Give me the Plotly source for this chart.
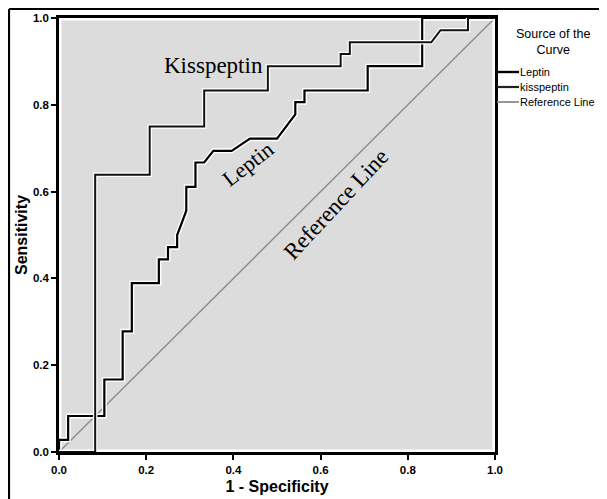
import plotly.graph_objects as go

# ---- Data ----
leptin_fpr = [0.000, 0.000, 0.021, 0.021, 0.104, 0.104, 0.146, 0.146, 0.167, 0.167,
              0.229, 0.229, 0.250, 0.250, 0.271, 0.271, 0.292, 0.292, 0.313, 0.313,
              0.333, 0.354, 0.396, 0.438, 0.500, 0.542, 0.542, 0.563, 0.563, 0.708,
              0.708, 0.833, 0.833, 1.000]
leptin_tpr = [0.000, 0.028, 0.028, 0.083, 0.083, 0.167, 0.167, 0.278, 0.278, 0.389,
              0.389, 0.444, 0.444, 0.472, 0.472, 0.500, 0.556, 0.611, 0.611, 0.667,
              0.667, 0.694, 0.694, 0.722, 0.722, 0.778, 0.806, 0.806, 0.833, 0.833,
              0.889, 0.889, 1.000, 1.000]

kiss_fpr = [0.000, 0.083, 0.083, 0.208, 0.208, 0.333, 0.333, 0.479, 0.479, 0.646,
            0.646, 0.667, 0.667, 0.854, 0.875, 0.938, 0.938, 1.000]
kiss_tpr = [0.000, 0.000, 0.639, 0.639, 0.750, 0.750, 0.833, 0.833, 0.889, 0.889,
            0.917, 0.917, 0.944, 0.944, 0.972, 0.972, 1.000, 1.000]

ref_x = [0.0, 1.0]
ref_y = [0.0, 1.0]

tick_vals = [0.0, 0.2, 0.4, 0.6, 0.8, 1.0]
tick_text = ["0.0", "0.2", "0.4", "0.6", "0.8", "1.0"]

legend_names = ["Leptin", "kisspeptin", "Reference Line"]
legend_colors = ["#000000", "#222222", "#8c8c8c"]
legend_widths = [2.4, 2.2, 1.8]

# ---- Layout geometry ----
# page has an 8px body margin, so figure coords = page coords - 8
O = 8
W, H = 607 - O, 499 - O
L, R, T, B = 59 - O, 495 - O, 18 - O, 452 - O


def px(p):
    """page x pixel -> paper x"""
    return (p - O - L) / (R - L)


def py(p):
    """page y pixel -> paper y"""
    return (B - (p - O)) / (B - T)


fig = go.Figure()

fig.add_trace(go.Scatter(x=ref_x, y=ref_y, mode="lines",
                         line=dict(color="#8c8c8c", width=1.4),
                         showlegend=False, hoverinfo="skip"))
fig.add_trace(go.Scatter(x=leptin_fpr, y=leptin_tpr, mode="lines",
                         line=dict(color="white", width=5),
                         showlegend=False, hoverinfo="skip"))
fig.add_trace(go.Scatter(x=leptin_fpr, y=leptin_tpr, mode="lines", name="Leptin",
                         line=dict(color="#000000", width=2.2), showlegend=False))
fig.add_trace(go.Scatter(x=kiss_fpr, y=kiss_tpr, mode="lines",
                         line=dict(color="white", width=4.5),
                         showlegend=False, hoverinfo="skip"))
fig.add_trace(go.Scatter(x=kiss_fpr, y=kiss_tpr, mode="lines", name="kisspeptin",
                         line=dict(color="#111111", width=2.0), showlegend=False))

axis_common = dict(
    range=[0, 1], showline=True, linecolor="black", linewidth=2.6, mirror=True,
    ticks="outside", ticklen=5, tickwidth=2, tickcolor="black",
    tickvals=tick_vals, ticktext=tick_text, showgrid=False, zeroline=False,
    automargin=False,
    tickfont=dict(family="Liberation Sans", size=11.5, color="black", weight="bold"),
)

fig.update_layout(
    width=W, height=H,
    margin=dict(l=L, r=W - R, t=T, b=H - B, autoexpand=False),
    paper_bgcolor="white", plot_bgcolor="#dcdcdc",
    showlegend=False,
    xaxis=dict(axis_common,
               title=dict(text="1 - Specificity", standoff=7,
                          font=dict(family="Liberation Sans", size=16,
                                    color="black", weight="bold"))),
    yaxis=dict(axis_common,
               title=dict(text="Sensitivity", standoff=2,
                          font=dict(family="Liberation Sans", size=16,
                                    color="black", weight="bold"))),
)

shapes = []
# white inner frame of the plot area
shapes.append(dict(type="rect", xref="x", yref="y", x0=0, x1=1, y0=0, y1=1,
                   line=dict(color="white", width=5), layer="below"))
# outer figure border (left & top)
shapes.append(dict(type="line", xref="paper", yref="paper",
                   x0=px(9), x1=px(9), y0=py(499), y1=py(9),
                   line=dict(color="black", width=2.2)))
shapes.append(dict(type="line", xref="paper", yref="paper",
                   x0=px(9), x1=px(607), y0=py(9), y1=py(9),
                   line=dict(color="black", width=2.2)))

annotations = []
# legend (manual, to match the compact SPSS style)
annotations.append(dict(text="Source of the<br>Curve", xref="paper", yref="paper",
                        x=px(553), y=py(42), showarrow=False, align="center",
                        xanchor="center", yanchor="middle",
                        font=dict(family="Liberation Sans", size=12.5, color="black")))
leg_y = [72, 87, 102]
for name, col, wd, yy in zip(legend_names, legend_colors, legend_widths, leg_y):
    shapes.append(dict(type="line", xref="paper", yref="paper",
                       x0=px(497), x1=px(519), y0=py(yy), y1=py(yy),
                       line=dict(color=col, width=wd)))
    annotations.append(dict(text=name, xref="paper", yref="paper",
                            x=px(518), y=py(yy), showarrow=False,
                            xanchor="left", yanchor="middle",
                            font=dict(family="Liberation Sans", size=11, color="black")))

# curve labels
serif = "Liberation Serif"
annotations.append(dict(text="Kisspeptin", xref="paper", yref="paper",
                        x=px(213), y=py(66), xanchor="center", yanchor="middle",
                        showarrow=False, font=dict(family=serif, size=23, color="black")))
annotations.append(dict(text="Leptin", xref="paper", yref="paper",
                        x=px(247), y=py(164), textangle=-38,
                        xanchor="center", yanchor="middle",
                        showarrow=False, font=dict(family=serif, size=22, color="black")))
annotations.append(dict(text="Reference Line", xref="paper", yref="paper",
                        x=px(336), y=py(205), textangle=-47,
                        xanchor="center", yanchor="middle",
                        showarrow=False, font=dict(family=serif, size=23, color="black")))

fig.update_layout(shapes=shapes, annotations=annotations)

fig.write_html("out.html")
